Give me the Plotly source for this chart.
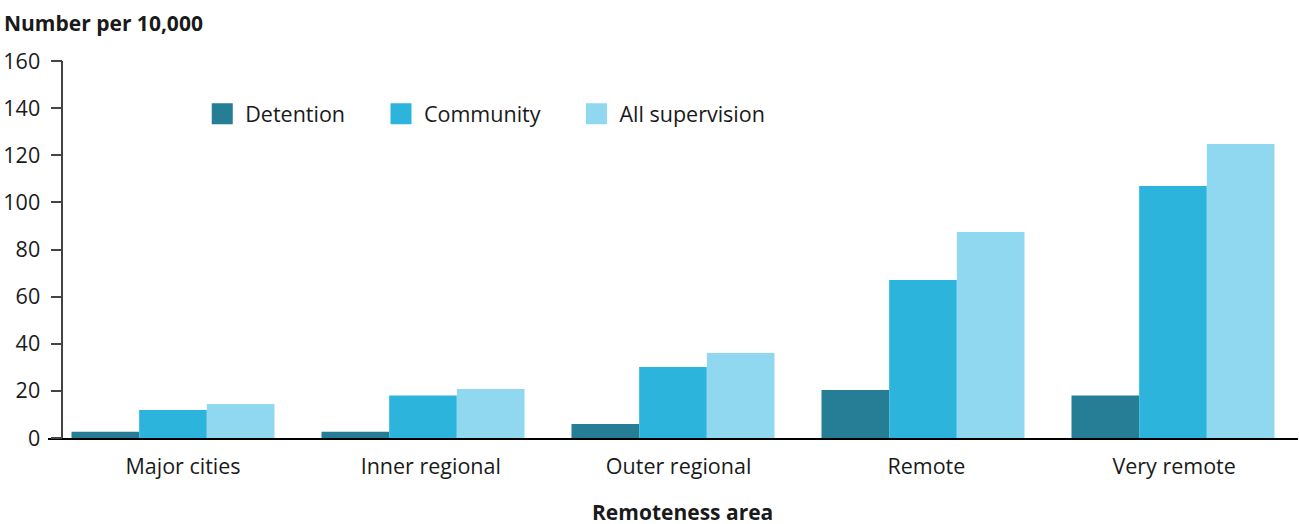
import plotly.graph_objects as go

areas = ["Major cities", "Inner regional", "Outer regional", "Remote", "Very remote"]
detention = [2.7, 2.7, 5.9, 20.4, 18.0]
community = [11.9, 18.0, 30.1, 67.1, 107.0]
all_supervision = [14.4, 20.8, 36.1, 87.4, 124.8]

series = [
    ("Detention", detention, "#267D96"),
    ("Community", community, "#2DB4DC"),
    ("All supervision", all_supervision, "#90D7F0"),
]

pad = "\u00a0" * 5  # extra room between legend entries

fig = go.Figure()
for name, vals, col in series:
    fig.add_trace(go.Bar(x=areas, y=vals, name=name, marker_color=col,
                         marker_line_width=0, showlegend=False))
    # square legend marker
    fig.add_trace(go.Scatter(x=[None], y=[None], mode="markers", name=name + pad,
                             marker=dict(symbol="square", size=22, color=col,
                                         line=dict(width=5, color=col))))

# category labels sit on a second axis, spaced slightly differently as in the original
fig.add_trace(go.Scatter(x=[0, len(areas) - 1], y=[None, None], xaxis="x2",
                         showlegend=False, hoverinfo="skip"))

fig.update_layout(
    width=1299, height=524,
    margin=dict(l=48, r=1, t=61, b=86, autoexpand=False),
    plot_bgcolor="white", paper_bgcolor="white",
    font=dict(family="Open Sans", size=21.5, color="#1a1a1a"),
    barmode="group", bargap=0.188, bargroupgap=0,
    legend=dict(orientation="h", x=0.121, y=0.86, xanchor="left", yanchor="middle",
                font=dict(size=21.5), bgcolor="rgba(0,0,0,0)", itemwidth=36),
    xaxis=dict(showline=True, linecolor="black", linewidth=1.5, ticks="",
               range=[-0.5, 4.5], showgrid=False, showticklabels=False,
               automargin=False),
    xaxis2=dict(overlaying="x", anchor="y", side="bottom", range=[-0.545, 4.5],
                tickvals=list(range(len(areas))), ticktext=areas, ticks="",
                showgrid=False, zeroline=False, showline=False,
                ticklabelstandoff=13, automargin=False),
    yaxis=dict(range=[0, 160], dtick=20, showgrid=False, zeroline=False,
               showline=True, linecolor="#444", linewidth=1.5,
               ticks="outside", ticklen=11, tickcolor="#444", tickwidth=1.5,
               anchor="free", position=0.0114, ticklabelstandoff=6,
               automargin=False),
    annotations=[
        dict(text="<b>Number per 10,000</b>", xref="paper", yref="paper",
             x=-0.037, y=1.0, yshift=38, xanchor="left", yanchor="middle",
             showarrow=False, font=dict(size=21)),
        dict(text="<b>Remoteness area</b>", xref="paper", yref="paper",
             x=0.5076, y=0, yshift=-74, xanchor="center", yanchor="middle",
             showarrow=False, font=dict(size=21)),
    ],
)

# drop the default page margin so the figure fills the window
fig.write_html("out.html", config={"displayModeBar": False},
               post_script="document.body.style.margin='0';")
